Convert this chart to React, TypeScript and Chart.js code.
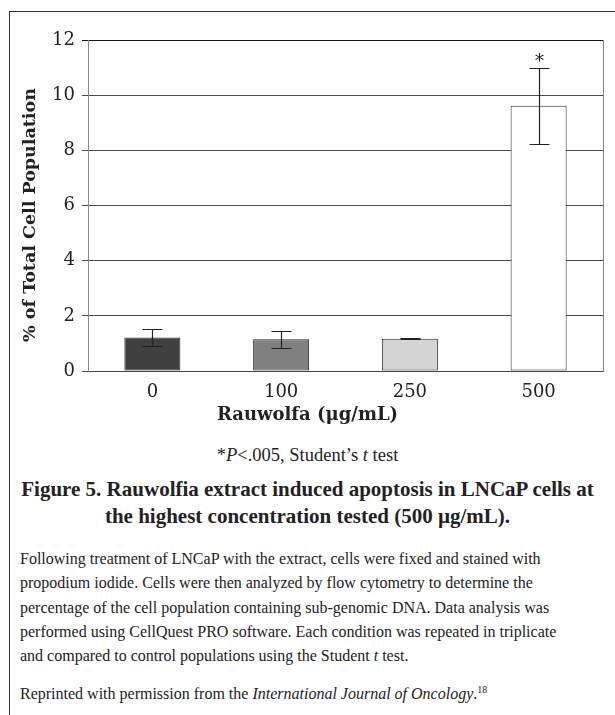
import React, { useEffect, useRef } from "react";
import { Chart, registerables } from "chart.js";

Chart.register(...registerables);

const categories = ["0", "100", "250", "500"];
const values = [1.21, 1.15, 1.17, 9.62];
const errors = [0.3, 0.3, 0.02, 1.38];
const barColors = ["#404040", "#808080", "#d4d4d4", "#ffffff"];
const significance = ["", "", "", "*"];
const yMin = 0;
const yMax = 12;
const yStep = 2;

const xTitle = "Rauwolfa (\u03bcg/mL)";
const yTitle = "% of Total Cell Population";

const TICK_FONT = "DejaVu Serif";
const TEXT_FONT = "Liberation Serif";

const errorBarPlugin = {
  id: "errorBars",
  afterDatasetsDraw(chart: any) {
    const { ctx } = chart;
    const y = chart.scales.y;
    const meta = chart.getDatasetMeta(0);
    ctx.save();
    ctx.strokeStyle = "#222";
    ctx.lineWidth = 1.2;
    meta.data.forEach((bar: any, i: number) => {
      const cx = Math.round(bar.x) + 0.5;
      const top = Math.round(y.getPixelForValue(values[i] + errors[i])) + 0.5;
      const bot = Math.round(y.getPixelForValue(values[i] - errors[i])) + 0.5;
      ctx.beginPath();
      ctx.moveTo(cx, top);
      ctx.lineTo(cx, bot);
      ctx.moveTo(cx - 10, top);
      ctx.lineTo(cx + 10, top);
      ctx.moveTo(cx - 10, bot);
      ctx.lineTo(cx + 10, bot);
      ctx.stroke();
      if (significance[i]) {
        ctx.fillStyle = "#222";
        ctx.font = `18px ${TICK_FONT}`;
        ctx.textAlign = "center";
        ctx.textBaseline = "alphabetic";
        ctx.fillText(significance[i], cx, top - 2);
      }
    });
    ctx.restore();
  },
};

const axisTitlesPlugin = {
  id: "axisTitles",
  afterDraw(chart: any) {
    const { ctx } = chart;
    ctx.save();
    ctx.fillStyle = "#222";
    ctx.font = `bold 18px ${TICK_FONT}`;
    ctx.textAlign = "center";
    ctx.textBaseline = "middle";
    ctx.fillText(xTitle, chart.width / 2, 415);
    ctx.translate(30, 215);
    ctx.rotate(-Math.PI / 2);
    ctx.font = `bold 17.5px ${TICK_FONT}`;
    ctx.fillText(yTitle, 0, 0);
    ctx.restore();
  },
};

function BarChart() {
  const ref = useRef<HTMLCanvasElement | null>(null);
  useEffect(() => {
    if (!ref.current) return;
    const chart = new Chart(ref.current, {
      type: "bar",
      data: {
        labels: categories,
        datasets: [
          {
            data: values,
            backgroundColor: barColors,
            borderColor: "#2a2a2a",
            borderWidth: 1,
            borderSkipped: false,
            categoryPercentage: 1,
            barPercentage: 0.435,
          },
        ],
      },
      options: {
        animation: false,
        responsive: false,
        maintainAspectRatio: false,
        events: [],
        layout: { padding: { left: 0, top: 40, right: 12, bottom: 0 } },
        plugins: {
          legend: { display: false },
          tooltip: { enabled: false },
          title: { display: false },
        },
        scales: {
          x: {
            grid: { display: false, drawTicks: false },
            border: { display: true, color: "#444", width: 1 },
            ticks: {
              color: "#222",
              padding: 11,
              font: { family: TICK_FONT, size: 18 },
            },
            afterFit(scale: any) {
              scale.height = 69;
            },
          },
          y: {
            min: yMin,
            max: yMax,
            ticks: {
              stepSize: yStep,
              color: "#222",
              padding: 7,
              font: { family: TICK_FONT, size: 18 },
            },
            grid: {
              color: (c: any) => (c.tick && c.tick.value === yMax ? "#111" : "#4a4a4a"),
              lineWidth: 1,
              tickLength: 6,
              drawTicks: true,
            },
            border: { display: true, color: "#888", width: 1 },
            title: { display: false },
            afterFit(scale: any) {
              scale.width = 88;
            },
          },
          y2: {
            position: "right",
            min: yMin,
            max: yMax,
            ticks: { display: false },
            grid: { drawOnChartArea: false, drawTicks: false },
            border: { display: true, color: "#888", width: 1 },
            afterFit(scale: any) {
              scale.width = 0;
            },
          },
        },
      } as any,
      plugins: [errorBarPlugin, axisTitlesPlugin],
    });
    return () => chart.destroy();
  }, []);
  return (
    <canvas
      ref={ref}
      width={615}
      height={440}
      style={{ position: "absolute", left: 0, top: 0, width: 615, height: 440 }}
    />
  );
}

const paragraphLines = [
  "Following treatment of LNCaP with the extract, cells were fixed and stained with",
  "propodium iodide. Cells were then analyzed by flow cytometry to determine the",
  "percentage of the cell population containing sub-genomic DNA. Data analysis was",
  "performed using CellQuest PRO software. Each condition was repeated in triplicate",
];

export default function App() {
  const textColor = "#222";
  return (
    <div
      style={{
        position: "absolute",
        left: 0,
        top: 0,
        width: 615,
        height: 715,
        background: "#fff",
        overflow: "hidden",
      }}
    >
      <div
        style={{
          position: "absolute",
          left: 9,
          top: 11,
          width: 606,
          height: 704,
          borderTop: "1px solid #333",
          borderLeft: "1px solid #333",
        }}
      />
      <BarChart />
      <div
        style={{
          position: "absolute",
          left: 0,
          top: 444,
          width: 615,
          textAlign: "center",
          fontFamily: TEXT_FONT,
          fontSize: 18.5,
          lineHeight: "22px",
          color: textColor,
          whiteSpace: "nowrap",
        }}
      >
        *<i>P</i>&lt;.005, Student’s <i>t</i> test
      </div>
      <div
        style={{
          position: "absolute",
          left: 0,
          top: 476,
          width: 615,
          textAlign: "center",
          fontFamily: TEXT_FONT,
          fontWeight: "bold",
          fontSize: 21,
          lineHeight: "27px",
          color: textColor,
          whiteSpace: "nowrap",
        }}
      >
        Figure 5. Rauwolfia extract induced apoptosis in LNCaP cells at
        <br />
        the highest concentration tested (500 µg/mL).
      </div>
      <div
        style={{
          position: "absolute",
          left: 20,
          top: 547,
          fontFamily: TEXT_FONT,
          fontSize: 16,
          lineHeight: "24.3px",
          color: textColor,
          whiteSpace: "nowrap",
        }}
      >
        {paragraphLines.map((l, i) => (
          <div key={i}>{l}</div>
        ))}
        <div>
          and compared to control populations using the Student <i>t</i> test.
        </div>
      </div>
      <div
        style={{
          position: "absolute",
          left: 20,
          top: 682,
          fontFamily: TEXT_FONT,
          fontSize: 16,
          lineHeight: "24px",
          color: textColor,
          whiteSpace: "nowrap",
        }}
      >
        Reprinted with permission from the <i>International Journal of Oncology</i>.
        <sup style={{ fontSize: 10, lineHeight: 0 }}>18</sup>
      </div>
    </div>
  );
}
